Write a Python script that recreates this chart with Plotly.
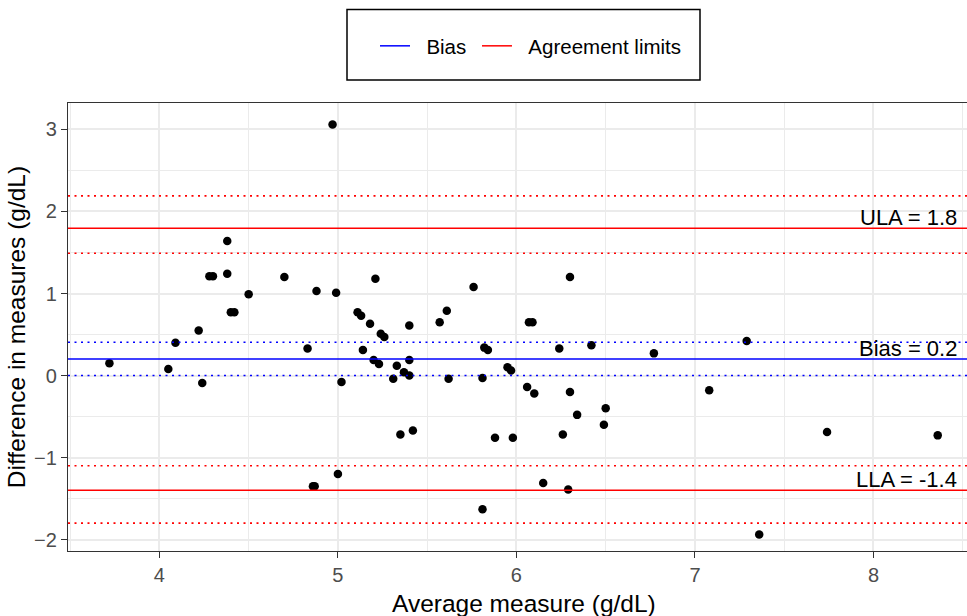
import plotly.graph_objects as go

# Bland-Altman data
avg_measure = [3.72, 4.05, 4.09, 4.22, 4.24, 4.28, 4.30, 4.38, 4.38, 4.40,
               4.42, 4.50, 4.70, 4.83, 4.86, 4.87, 4.88, 4.97, 4.99, 5.00,
               5.02, 5.11, 5.13, 5.14, 5.18, 5.20, 5.21, 5.23, 5.24, 5.26,
               5.31, 5.33, 5.35, 5.37, 5.40, 5.40, 5.40, 5.42, 5.57, 5.61,
               5.62, 5.76, 5.81, 5.81, 5.82, 5.84, 5.88, 5.95, 5.97, 5.98,
               6.06, 6.07, 6.09, 6.10, 6.15, 6.24, 6.26, 6.29, 6.30, 6.30,
               6.34, 6.42, 6.49, 6.50, 6.77, 7.08, 7.29, 7.36, 7.74, 8.36]
diff_measure = [0.15, 0.08, 0.40, 0.55, -0.09, 1.21, 1.21, 1.64, 1.24, 0.77,
                0.77, 0.99, 1.20, 0.33, -1.35, -1.35, 1.03, 3.06, 1.01, -1.20,
                -0.08, 0.77, 0.73, 0.31, 0.63, 0.19, 1.18, 0.14, 0.51, 0.47,
                -0.04, 0.12, -0.72, 0.04, 0.00, 0.19, 0.61, -0.67, 0.65, 0.79,
                -0.04, 1.08, -0.03, -1.63, 0.34, 0.31, -0.76, 0.10, 0.06, -0.76,
                -0.14, 0.65, 0.65, -0.22, -1.31, 0.33, -0.72, -1.39, -0.20, 1.20,
                -0.48, 0.37, -0.60, -0.40, 0.27, -0.18, 0.42, -1.94, -0.69, -0.73]

bias = 0.2
bias_ci = [0.0, 0.405]
ula = 1.795
ula_ci = [1.49, 2.19]
lla = -1.40
lla_ci = [-1.80, -1.10]

x_ticks = [4, 5, 6, 7, 8]
y_ticks = [-2, -1, 0, 1, 2, 3]
x_range = [3.488, 8.524]
y_range = [-2.14, 3.323]

legend_names = ["Bias", "Agreement limits"]
x_title = "Average measure (g/dL)"
y_title = "Difference in measures (g/dL)"

BLUE = "#0000FF"
RED = "#FF0000"
FONT = "Liberation Sans, Arial, sans-serif"
NB = "\u00a0"

fig = go.Figure()

fig.add_trace(go.Scatter(
    x=avg_measure, y=diff_measure, mode="markers",
    marker=dict(color="black", size=8.5),
    showlegend=False, hoverinfo="x+y"))

# legend entries
fig.add_trace(go.Scatter(x=[None], y=[None], mode="lines",
                         line=dict(color=BLUE, width=1.5),
                         name=NB * 2 + legend_names[0] + NB))
fig.add_trace(go.Scatter(x=[None], y=[None], mode="lines",
                         line=dict(color=RED, width=1.5),
                         name=NB * 2 + legend_names[1]))

DOT = "2px,4.5px"
def hline(y, color, dash):
    fig.add_shape(type="line", xref="paper", x0=0, x1=1, yref="y", y0=y, y1=y,
                  line=dict(color=color, width=1.5 if dash == "solid" else 1.6,
                            dash=dash), layer="above")

for v in bias_ci:
    hline(v, BLUE, DOT)
for v in ula_ci + lla_ci:
    hline(v, RED, DOT)
hline(bias, BLUE, "solid")
hline(ula, RED, "solid")
hline(lla, RED, "solid")

for val, label in [(ula, "ULA = %.1f" % ula), (bias, "Bias = %.1f" % bias),
                   (lla, "LLA = %.1f" % lla)]:
    fig.add_annotation(x=1, xref="paper", y=val, yref="y", text=label,
                       showarrow=False, xanchor="right", yanchor="bottom",
                       xshift=-8, yshift=-4,
                       font=dict(family=FONT, size=22, color="black"))

# layout geometry
W, H = 967, 616
L, R, T, B = 68, 0, 103, 65
pw, ph = W - L - R, H - T - B
def px_x(p):
    return (p - L) / pw
def px_y(p):
    return (H - B - p) / ph

# x axis title (the original panel runs a little past the right edge,
# so the title is centred slightly right of the visible panel centre)
fig.add_annotation(x=px_x(523.5), xref="paper", y=px_y(603), yref="paper",
                   text=x_title, showarrow=False, xanchor="center",
                   yanchor="middle",
                   font=dict(family=FONT, size=24.5, color="black"))

# legend box
fig.add_shape(type="rect", xref="paper", yref="paper",
              x0=px_x(347), x1=px_x(700), y0=px_y(80), y1=px_y(9.5),
              line=dict(color="black", width=1.5), fillcolor="rgba(0,0,0,0)")

fig.update_layout(
    width=W, height=H,
    margin=dict(l=L, r=R, t=T, b=B, autoexpand=False),
    paper_bgcolor="white", plot_bgcolor="white",
    font=dict(family=FONT, color="black"),
    showlegend=True,
    legend=dict(orientation="h", x=px_x(375), xanchor="left",
                y=px_y(46), yanchor="middle",
                font=dict(family=FONT, size=20.5, color="black"),
                bgcolor="rgba(0,0,0,0)", borderwidth=0, itemwidth=30),
    xaxis=dict(range=x_range, tickvals=x_ticks, ticks="outside", ticklen=6,
               tickcolor="#333333", tickwidth=1.2,
               tickfont=dict(family=FONT, size=20, color="#4D4D4D"),
               showgrid=True, gridcolor="#EBEBEB", gridwidth=1.5,
               minor=dict(dtick=0.5, tick0=0, showgrid=True,
                          gridcolor="#EBEBEB", gridwidth=1),
               showline=True, linecolor="#333333", linewidth=1.3, mirror=True,
               zeroline=False),
    yaxis=dict(range=y_range, tickvals=y_ticks, ticks="outside", ticklen=6,
               tickcolor="#333333", tickwidth=1.2,
               tickfont=dict(family=FONT, size=20, color="#4D4D4D"),
               showgrid=True, gridcolor="#EBEBEB", gridwidth=1.5,
               minor=dict(dtick=0.5, tick0=0, showgrid=True,
                          gridcolor="#EBEBEB", gridwidth=1),
               showline=True, linecolor="#333333", linewidth=1.3, mirror=True,
               zeroline=False,
               title=dict(text=y_title, standoff=1,
                          font=dict(family=FONT, size=24.5, color="black"))),
)

fig.write_html("out.html")
